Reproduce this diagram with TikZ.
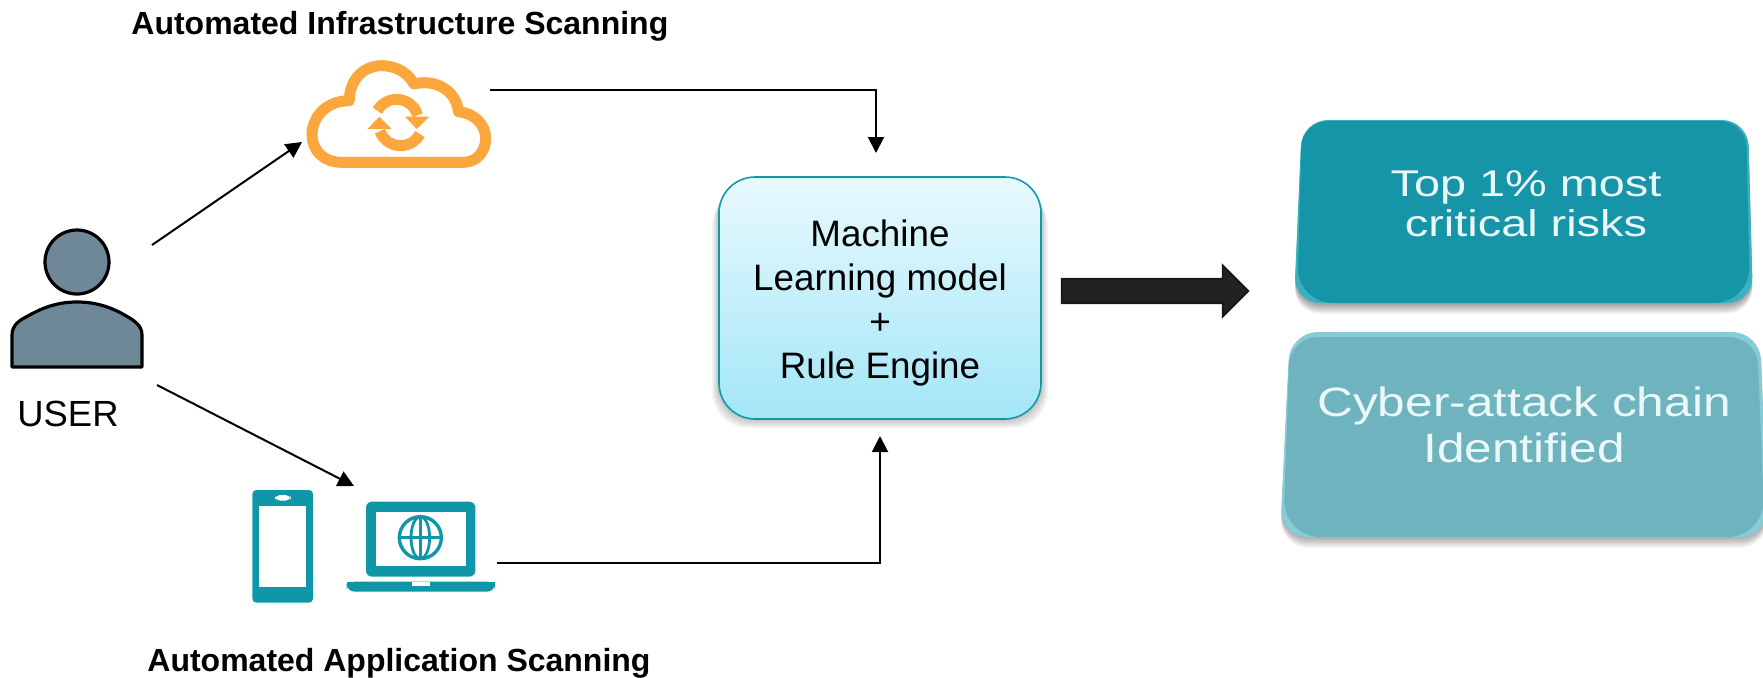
\documentclass[tikz,border=0pt]{standalone}
\usepackage{fontspec}
\setmainfont{Liberation Sans}
\newfontfamily\wideA[FakeStretch=1.26]{Liberation Sans}
\newfontfamily\wideB[FakeStretch=1.21]{Liberation Sans}
\usetikzlibrary{arrows.meta}
\definecolor{teal1}{HTML}{1795A8}
\definecolor{teal1h}{HTML}{3BB0BF}
\definecolor{teal2}{HTML}{6FB3BE}
\definecolor{teal2h}{HTML}{86CBD5}
\definecolor{icon}{HTML}{0F97A8}
\definecolor{cloudc}{HTML}{FBA73D}
\definecolor{person}{HTML}{6E8898}
\definecolor{mlline}{HTML}{0E9AAB}
\definecolor{mltop}{HTML}{E8F9FE}
\definecolor{mlbot}{HTML}{A3E6F6}
\definecolor{bigarrow}{HTML}{222222}
\definecolor{boxtext}{HTML}{EAF8F9}
\tikzset{
  conn/.style={line width=1pt,draw=black,-{Triangle[length=8pt,width=8pt]}},
  title/.style={font=\fontsize{16}{19}\selectfont\bfseries,inner sep=0pt,anchor=base west},
  mlbox/.style={draw=mlline,line width=0.8pt,rounded corners=18pt,top color=mltop,bottom color=mlbot,
    minimum width=161pt,minimum height=121pt,inner sep=0pt,align=center},
  mltext/.style={align=center,inner sep=0pt,font=\fontsize{18.4}{22.1}\selectfont},
  toptext/.style={text=boxtext,align=center,inner sep=0pt,font=\fontsize{18.6}{20}\wideA},
  bottext/.style={text=boxtext,align=center,inner sep=0pt,font=\fontsize{20.5}{23}\wideB},
  zoomA/.style={shift={(290,60)},scale=1/3},
  zoomB/.style={shift={(240,480)},scale=1/3},
}
\begin{document}
\begin{tikzpicture}[x=0.5pt,y=-0.5pt]
\useasboundingbox (0,0) rectangle (1763,677);
% titles
\node[title] (t1) at (131,34) {Automated Infrastructure Scanning};
\node[title] (t2) at (147,671) {Automated Application Scanning};
% person
\draw[black,line width=1.6pt,fill=person] (77,262) circle (32);
\draw[black,line width=1.6pt,fill=person,line join=round]
  (12,367) -- (12,335) .. controls (12,325) and (20,320) .. (26,317)
  .. controls (45,306) and (60,302) .. (77,302)
  .. controls (94,302) and (110,306) .. (128,317)
  .. controls (135,321) and (142,326) .. (142,335) -- (142,367) -- cycle;
\node[font=\fontsize{18.2}{21}\selectfont,inner sep=0pt,anchor=base] (user) at (68,426) {USER};
% cloud
\begin{scope}[zoomA]
\draw[cloudc,line width=5.5pt,line join=round]
  (155,307) .. controls (100,307) and (66,270) .. (66,225)
  .. controls (66,170) and (110,122) .. (178,122)
  .. controls (178,60) and (220,17) .. (275,17)
  .. controls (320,17) and (355,40) .. (372,72)
  .. controls (440,55) and (500,95) .. (505,155)
  .. controls (555,160) and (587,195) .. (587,235)
  .. controls (587,275) and (560,307) .. (520,307) -- cycle;
\draw[cloudc,line width=5.5pt] (262,152) arc[start angle=209,end angle=344,radius=66];
\fill[cloudc] (345,170) -- (418,170) -- (380,207) -- cycle;
\draw[cloudc,line width=5.5pt] (390,222) arc[start angle=28,end angle=160,radius=66];
\fill[cloudc] (232,207) -- (305,207) -- (268,170) -- cycle;
\end{scope}
% phone and laptop
\begin{scope}[zoomB]
\fill[icon,rounded corners=2pt] (37,30) rectangle (219,368);
\fill[white] (58,77) rectangle (197,322);
\fill[white,rounded corners=2.5pt] (105,45) rectangle (152,62);
\fill[icon,rounded corners=3pt] (378,290) -- (378,65) -- (706,65) -- (706,290) -- cycle;
\fill[white] (407,95) rectangle (677,258);
\fill[icon,rounded corners=4pt] (320,305) -- (765,305) -- (765,335) -- (320,335) -- cycle;
\fill[icon] (320,305) rectangle (765,318);
\fill[white] (515,305) rectangle (570,317);
\draw[icon,line width=1.7pt] (541,173) circle (63);
\draw[icon,line width=1.4pt] (541,173) ellipse (28 and 63);
\draw[icon,line width=1.4pt] (541,110) -- (541,236) (478,173) -- (604,173);
\end{scope}
% ML box
\foreach \s in {1,...,7}{
  \fill[black,opacity=0.035,rounded corners=18pt] (719-\s,177+\s*2) rectangle (1041+\s,419+\s*1.3);
}
\node[mlbox] (ml) at (880,298) {};
\node[mltext] (mltxt) at (880,303) {Machine\\Learning model\\+\\Rule Engine};
% big arrow
\draw[black!90,line width=1.2pt,fill=bigarrow,line join=miter]
  (1062,279) -- (1223,279) -- (1223,266) -- (1248,291) -- (1223,316) -- (1223,303) -- (1062,303) -- cycle;
% output box 1
\foreach \s in {1,...,7}{
  \fill[black,opacity=0.06,rounded corners=13pt] (1302,120+\s) -- (1748,120+\s) -- (1753,303+\s*1.5) -- (1294,303+\s*1.5) -- cycle;
}
\fill[teal1h,rounded corners=13pt] (1302,120) -- (1748,120) -- (1753,303) -- (1294,303) -- cycle;
\fill[teal1] [rounded corners=13pt] (1302,121) -- (1746,121) [rounded corners=18pt] -- (1750,303) -- (1297,303) [rounded corners=13pt] -- cycle;
\node[toptext] (risk) at (1526,204) {Top 1\% most\\critical risks};
% output box 2
\foreach \s in {1,...,7}{
  \fill[black,opacity=0.05,rounded corners=14pt] (1290,332+\s) -- (1760,332+\s) -- (1768,537+\s*1.5) -- (1280,537+\s*1.5) -- cycle;
}
\fill[teal2h,rounded corners=14pt] (1290,332) -- (1760,332) -- (1768,537) -- (1280,537) -- cycle;
\fill[teal2] [rounded corners=14pt] (1290,337) -- (1757,337) [rounded corners=19pt] -- (1765,537) -- (1283,537) [rounded corners=14pt] -- cycle;
\node[bottext] (chain) at (1524,425) {Cyber-attack chain\\Identified};
% connectors
\coordinate (userUp) at (152,245);
\coordinate (userDown) at (157,385);
\coordinate (cloudIn) at (302,142);
\coordinate (deviceIn) at (354,486);
\coordinate (cloudOut) at (490,90);
\coordinate (mlTopIn) at (876,153);
\coordinate (laptopOut) at (497,563);
\coordinate (mlBotIn) at (880,436);
\draw[conn] (userUp) -- (cloudIn);
\draw[conn] (userDown) -- (deviceIn);
\draw[conn] (cloudOut) -| (mlTopIn);
\draw[conn] (laptopOut) -| (mlBotIn);
\end{tikzpicture}
\end{document}
